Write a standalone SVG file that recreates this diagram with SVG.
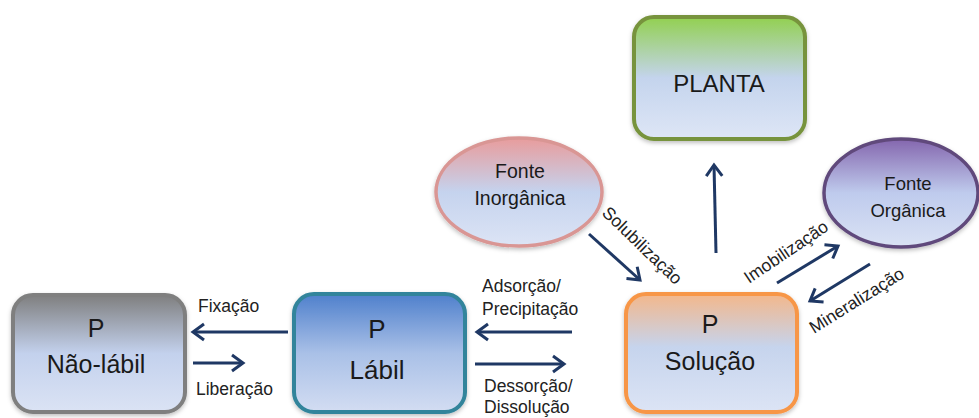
<svg xmlns="http://www.w3.org/2000/svg" width="979" height="418" viewBox="0 0 979 418">
<style>
.node text{font-family:"Liberation Sans",Arial,sans-serif;fill:#1a1a1a;text-anchor:middle}
.lbl{font-family:"Liberation Sans",Arial,sans-serif;font-size:17.5px;fill:#222}
.arr{stroke:#1f3864;stroke-width:3;fill:none;marker-end:url(#ah)}
.box{stroke-width:4}
</style>
<defs>
<marker id="ah" viewBox="-14 -11 17 22" markerWidth="17" markerHeight="22" refX="0" refY="0" orient="auto" markerUnits="userSpaceOnUse">
<path d="M-11,-8 L0,0 L-11,8" fill="none" stroke="#1f3864" stroke-width="3"/>
</marker>
<filter id="sh" x="-10%" y="-10%" width="120%" height="125%"><feDropShadow dx="0" dy="2" stdDeviation="2" flood-color="#000" flood-opacity="0.25"/></filter>
<linearGradient id="gGray" x1="0" y1="0" x2="0" y2="1"><stop offset="0" stop-color="#7f7f7f"/><stop offset="0.5" stop-color="#c3d1ed"/><stop offset="1" stop-color="#dbe3f4"/></linearGradient>
<linearGradient id="gBlue" x1="0" y1="0" x2="0" y2="1"><stop offset="0" stop-color="#4f80cc"/><stop offset="0.5" stop-color="#a9c0e7"/><stop offset="1" stop-color="#d3ddf2"/></linearGradient>
<linearGradient id="gOrange" x1="0" y1="0" x2="0" y2="1"><stop offset="0" stop-color="#f3b78b"/><stop offset="0.45" stop-color="#c6d4ed"/><stop offset="1" stop-color="#dce4f5"/></linearGradient>
<linearGradient id="gGreen" x1="0" y1="0" x2="0" y2="1"><stop offset="0" stop-color="#92d050"/><stop offset="0.5" stop-color="#c4d4ed"/><stop offset="1" stop-color="#dee6f6"/></linearGradient>
<linearGradient id="gRed" x1="0" y1="0" x2="0" y2="1"><stop offset="0" stop-color="#e89c9c"/><stop offset="0.5" stop-color="#c5d3ee"/><stop offset="1" stop-color="#dce4f5"/></linearGradient>
<linearGradient id="gPurple" x1="0" y1="0" x2="0" y2="1"><stop offset="0" stop-color="#8466ae"/><stop offset="0.5" stop-color="#bfcbed"/><stop offset="1" stop-color="#dae2f4"/></linearGradient>
</defs>

<g id="planta" class="node">
<rect class="box" x="634" y="17" width="171" height="122" rx="20" fill="url(#gGreen)" stroke="#77933c" filter="url(#sh)"/>
<text x="719" y="92" font-size="24">PLANTA</text>
</g>

<g id="fonte-inorganica" class="node">
<ellipse cx="519" cy="192" rx="83" ry="54" fill="url(#gRed)" stroke="#d99694" stroke-width="3.5" filter="url(#sh)"/>
<text x="520" y="178" font-size="19.5">Fonte</text>
<text x="520" y="205" font-size="19.5">Inorgânica</text>
</g>

<g id="fonte-organica" class="node">
<ellipse cx="901" cy="193" rx="77" ry="54" fill="url(#gPurple)" stroke="#604a7b" stroke-width="3.5" filter="url(#sh)"/>
<text x="908" y="190" font-size="18.5">Fonte</text>
<text x="908" y="217" font-size="18.5">Orgânica</text>
</g>

<g id="nao-labil" class="node">
<rect class="box" x="13" y="295" width="172" height="117" rx="20" fill="url(#gGray)" stroke="#7f7f7f" filter="url(#sh)"/>
<text x="96" y="337" font-size="25">P</text>
<text x="96" y="373" font-size="25">Não-lábil</text>
</g>

<g id="labil" class="node">
<rect class="box" x="294" y="294" width="171" height="118" rx="20" fill="url(#gBlue)" stroke="#31849b" filter="url(#sh)"/>
<text x="377" y="338" font-size="26">P</text>
<text x="377" y="379" font-size="26">Lábil</text>
</g>

<g id="solucao" class="node">
<rect class="box" x="626" y="294" width="171" height="118" rx="20" fill="url(#gOrange)" stroke="#f79646" filter="url(#sh)"/>
<text x="710" y="333" font-size="25">P</text>
<text x="710" y="370" font-size="25">Solução</text>
</g>

<g id="connectors">
<line class="arr" x1="288" y1="332" x2="193" y2="332"/>
<line class="arr" x1="193" y1="363" x2="243" y2="363"/>
<line class="arr" x1="572" y1="332" x2="477" y2="332"/>
<line class="arr" x1="475" y1="364" x2="564" y2="364"/>
<line class="arr" x1="589" y1="234" x2="640" y2="280"/>
<line class="arr" x1="716" y1="253" x2="714" y2="165"/>
<line class="arr" x1="777" y1="283" x2="838" y2="246"/>
<line class="arr" x1="870" y1="264" x2="810" y2="301"/>
</g>

<g id="labels">
<text class="lbl" x="198" y="312">Fixação</text>
<text class="lbl" x="196" y="395">Liberação</text>
<text class="lbl" x="482" y="292">Adsorção/</text>
<text class="lbl" x="482" y="315">Precipitação</text>
<text class="lbl" x="484" y="392">Dessorção/</text>
<text class="lbl" x="484" y="413">Dissolução</text>
<text class="lbl" x="601" y="214" transform="rotate(44 601 214)">Solubilização</text>
<text class="lbl" x="749" y="284" transform="rotate(-34 749 284)">Imobilização</text>
<text class="lbl" x="814" y="334" transform="rotate(-32 814 334)">Mineralização</text>
</g>
</svg>
